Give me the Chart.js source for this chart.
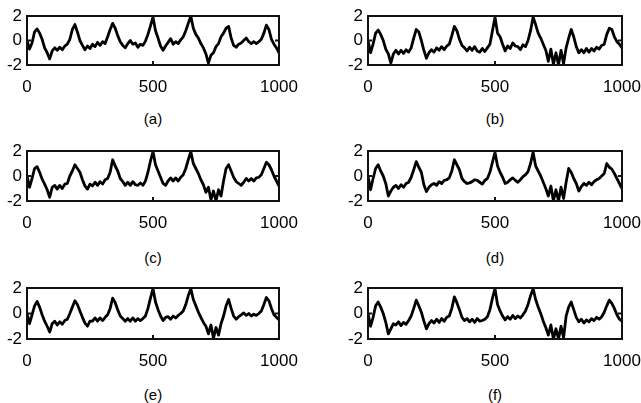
<!DOCTYPE html>
<html><head><meta charset="utf-8">
<script src="https://cdn.jsdelivr.net/npm/chart.js@4"></script>
<style>
html,body{margin:0;padding:0;background:#fff;width:641px;height:403px;overflow:hidden;position:relative}
canvas{position:absolute}
.cap{position:absolute;font:15px "Liberation Sans",Arial,sans-serif;color:#000;transform:translate(-50%,-50%);white-space:nowrap}
</style></head><body>
<script>
// sample positions (index axis 0..1000, every 10 samples)
const sampleX = Array.from({length:101}, (_, i) => i * 10);
const xTickValues = [0, 500, 1000];
const yTickValues = [-2, 0, 2];
const captions = ['(a)', '(b)', '(c)', '(d)', '(e)', '(f)'];

const seriesA = [0.0,-0.7,-0.2,0.7,0.95,0.6,0.1,-0.6,-1.0,-1.5,
 -0.85,-0.6,-0.8,-0.55,-0.75,-0.45,-0.3,0.1,0.9,1.3,
 0.7,0.0,-0.4,-0.75,-0.45,-0.65,-0.3,-0.5,-0.15,-0.4,
 -0.1,-0.25,0.3,0.9,1.4,1.0,0.4,-0.1,-0.4,-0.6,
 -0.25,0.0,-0.3,-0.2,-0.55,-0.3,-0.4,-0.05,0.5,1.2,
 1.9,0.8,0.2,-0.45,-0.8,-0.45,-0.15,0.15,-0.3,-0.1,
 -0.25,0.05,0.3,0.8,1.4,2.0,1.0,0.5,0.2,-0.25,
 -0.6,-1.1,-1.85,-1.2,-1.0,-0.5,-0.25,0.3,0.6,1.0,
 1.15,0.2,-0.4,-0.55,-0.3,-0.2,0.0,0.2,-0.1,-0.25,
 -0.1,-0.25,-0.1,0.1,0.6,1.25,0.9,0.1,-0.3,-0.6,
 -1.0];

const seriesB = [0.0,-1.0,-0.3,0.6,0.85,0.5,0.0,-0.7,-1.1,-1.85,
 -1.1,-0.8,-1.1,-0.8,-1.05,-0.75,-0.95,-0.6,0.2,0.9,
 0.7,0.0,-0.8,-1.45,-1.0,-0.75,-0.95,-0.6,-0.8,-0.5,
 -0.75,-0.45,-0.3,0.4,1.15,0.8,0.1,-0.4,-0.6,-0.85,
 -0.55,-0.8,-0.5,-0.85,-0.95,-0.65,-0.9,-0.6,-0.3,0.8,
 1.9,0.6,0.3,-0.3,-0.85,-0.45,-0.65,-0.2,-0.45,-0.5,
 -0.75,-0.35,-0.5,0.0,0.8,1.9,1.3,0.6,0.2,-0.3,
 -0.8,-1.7,-0.7,-1.95,-1.0,-2.0,-0.8,-1.9,-0.6,0.2,
 0.9,0.3,-0.5,-1.0,-0.75,-1.0,-0.65,-0.95,-0.65,-0.85,
 -0.55,-0.7,-0.4,-0.3,0.5,1.0,0.9,0.3,-0.1,-0.3,
 -0.6];

const seriesC = [0.0,-0.9,-0.2,0.6,0.75,0.3,-0.25,-0.65,-1.1,-1.7,
 -0.9,-0.75,-1.05,-0.75,-1.0,-0.65,-0.6,0.0,0.4,0.9,
 0.6,0.3,-0.3,-0.8,-1.05,-0.65,-0.8,-0.5,-0.75,-0.45,
 -0.65,-0.3,-0.2,0.3,1.3,0.8,0.4,-0.2,-0.45,-0.75,
 -0.5,-0.75,-0.45,-0.7,-0.75,-0.55,-0.75,-0.4,0.3,1.2,
 1.95,0.9,0.4,-0.1,-0.6,-0.75,-0.4,-0.15,-0.4,-0.15,
 -0.4,-0.1,0.1,0.6,1.3,1.95,1.0,0.6,0.2,-0.3,
 -0.7,-1.3,-0.9,-1.9,-1.2,-2.0,-1.1,-1.6,-0.4,0.6,
 0.9,0.4,-0.1,-0.45,-0.6,-0.75,-0.5,-0.2,-0.4,-0.2,
 -0.4,-0.15,-0.1,0.1,0.6,1.1,0.9,0.5,0.0,-0.4,
 -0.8];

const seriesD = [0.0,-1.1,-0.2,0.6,0.9,0.4,0.0,-0.6,-1.6,-1.2,
 -0.9,-0.75,-1.0,-0.7,-0.9,-0.6,-0.5,-0.1,0.5,1.15,
 0.7,0.3,-0.7,-1.25,-0.9,-0.7,-0.6,-0.75,-0.45,-0.6,
 -0.35,-0.3,-0.15,0.4,1.3,0.9,0.5,-0.2,-0.45,-0.6,
 -0.55,-0.45,-0.3,-0.35,-0.5,-0.65,-0.35,-0.2,0.3,1.1,
 1.9,0.8,0.3,-0.1,-0.6,-0.5,-0.3,-0.15,-0.35,-0.5,
 -0.3,-0.05,0.1,0.35,1.0,1.9,0.8,0.4,0.0,-0.5,
 -1.0,-1.6,-0.8,-2.0,-1.1,-2.0,-0.9,-1.8,-0.5,0.6,
 0.3,-0.2,-0.6,-1.2,-0.85,-0.6,-0.75,-0.5,-0.7,-0.45,
 -0.3,-0.2,0.0,0.2,1.0,0.7,0.55,0.2,-0.2,-0.6,
 -1.0];

const seriesE = [0.0,-0.8,-0.1,0.6,0.95,0.5,-0.1,-0.6,-1.0,-1.45,
 -0.8,-0.6,-0.9,-0.65,-0.85,-0.55,-0.45,0.0,0.5,1.0,
 0.7,0.2,-0.3,-0.75,-1.0,-0.6,-0.6,-0.35,-0.6,-0.35,
 -0.55,-0.3,-0.1,0.4,1.2,0.85,0.3,-0.2,-0.4,-0.6,
 -0.4,-0.6,-0.35,-0.6,-0.4,-0.55,-0.4,-0.2,0.4,1.2,
 1.95,0.9,0.3,-0.2,-0.55,-0.3,-0.25,-0.45,-0.2,-0.35,
 -0.15,0.0,0.2,0.7,1.4,1.95,1.1,0.6,0.1,-0.3,
 -0.7,-1.0,-1.6,-0.9,-1.95,-1.1,-1.7,-0.8,-0.2,0.6,
 1.1,0.4,-0.2,-0.45,-0.25,-0.1,0.05,-0.15,0.0,-0.2,
 -0.05,-0.15,0.0,0.2,0.7,1.25,1.0,0.4,-0.1,-0.3,
 -0.5];

const seriesF = [0.0,-1.0,-0.3,0.6,0.9,0.5,0.0,-0.7,-1.6,-1.2,
 -0.8,-0.9,-0.65,-0.95,-0.7,-0.85,-0.55,-0.2,0.4,1.05,
 0.6,0.1,-0.6,-1.2,-0.8,-0.55,-0.75,-0.45,-0.7,-0.4,
 -0.6,-0.3,-0.2,0.4,1.3,0.85,0.3,-0.3,-0.55,-0.4,
 -0.65,-0.45,-0.7,-0.4,-0.6,-0.55,-0.45,-0.25,0.3,1.2,
 1.95,0.7,0.2,-0.2,-0.5,-0.25,-0.45,-0.15,-0.4,-0.2,
 -0.35,-0.1,0.2,0.7,1.4,1.95,1.1,0.5,0.0,-0.6,
 -1.1,-1.7,-0.9,-2.0,-1.2,-2.0,-1.0,-1.9,-0.2,0.5,
 0.9,0.3,-0.3,-0.65,-0.45,-0.75,-0.5,-0.65,-0.4,-0.55,
 -0.3,-0.45,-0.25,0.1,0.6,1.05,0.8,0.4,-0.1,-0.45,
 -0.6];

const allSeries = [seriesA, seriesB, seriesC, seriesD, seriesE, seriesF];

// layout of panels
const colLeft = [0, 340], colW = [330, 320], colArea = [[27, 279], [368, 622]];
const H = 105;
const rowTop = [0, 135, 272], rowArea = [[16, 65], [151, 201], [288, 339]];
const capY = [118, 257, 394];
const FONT = '"Liberation Sans", Arial, sans-serif';

const framePlugin = {
  id: 'frame',
  afterDatasetsDraw(chart) {
    const {ctx, chartArea: a, scales: {x, y}} = chart;
    ctx.save();
    ctx.strokeStyle = '#111';
    ctx.lineWidth = 2;
    ctx.strokeRect(a.left, a.top, a.right - a.left, a.bottom - a.top);
    ctx.beginPath();
    xTickValues.forEach(v => {
      const px = x.getPixelForValue(v);
      ctx.moveTo(px, a.bottom); ctx.lineTo(px, a.bottom - 4);
      ctx.moveTo(px, a.top); ctx.lineTo(px, a.top + 4);
    });
    yTickValues.forEach(v => {
      const py = y.getPixelForValue(v);
      ctx.moveTo(a.left, py); ctx.lineTo(a.left + 4, py);
      ctx.moveTo(a.right, py); ctx.lineTo(a.right - 4, py);
    });
    ctx.stroke();
    ctx.restore();
  }
};

allSeries.forEach((vals, i) => {
  const col = i % 2, row = Math.floor(i / 2);
  const left = colLeft[col], top = rowTop[row], W = colW[col];
  const [aL, aR] = colArea[col], [aT, aB] = rowArea[row];
  const cv = document.createElement('canvas');
  cv.width = W; cv.height = H;
  cv.style.left = left + 'px'; cv.style.top = top + 'px';
  document.body.appendChild(cv);
  const cap = document.createElement('div');
  cap.className = 'cap';
  cap.textContent = captions[i];
  cap.style.left = ((aL + aR) / 2) + 'px';
  cap.style.top = capY[row] + 'px';
  document.body.appendChild(cap);

  new Chart(cv, {
    type: 'line',
    data: {
      datasets: [{
        data: sampleX.map((x, k) => ({x, y: vals[k]})),
        borderColor: '#000',
        borderWidth: 2.8,
        pointRadius: 0,
        tension: 0,
        borderJoinStyle: 'round',
        fill: false
      }]
    },
    options: {
      responsive: false,
      animation: false,
      events: [],
      layout: {padding: {top: aT - top, right: left + W - aR, left: 0, bottom: 0}},
      plugins: {legend: {display: false}, tooltip: {enabled: false}},
      scales: {
        x: {
          type: 'linear', min: 0, max: 1000,
          afterFit(s) { s.height = top + H - aB; },
          grid: {display: false, drawTicks: false},
          border: {display: false},
          ticks: {stepSize: 500, padding: 12, color: '#000', maxRotation: 0,
                  callback: v => String(v),
                  font: {family: FONT, size: 17}}
        },
        y: {
          min: -2, max: 2,
          afterFit(s) { s.width = aL - left; },
          grid: {display: false, drawTicks: false},
          border: {display: false},
          ticks: {stepSize: 2, padding: 5, color: '#000',
                  callback: v => String(v),
                  font: {family: FONT, size: 17}}
        }
      }
    },
    plugins: [framePlugin]
  });
});
</script>
</body></html>
